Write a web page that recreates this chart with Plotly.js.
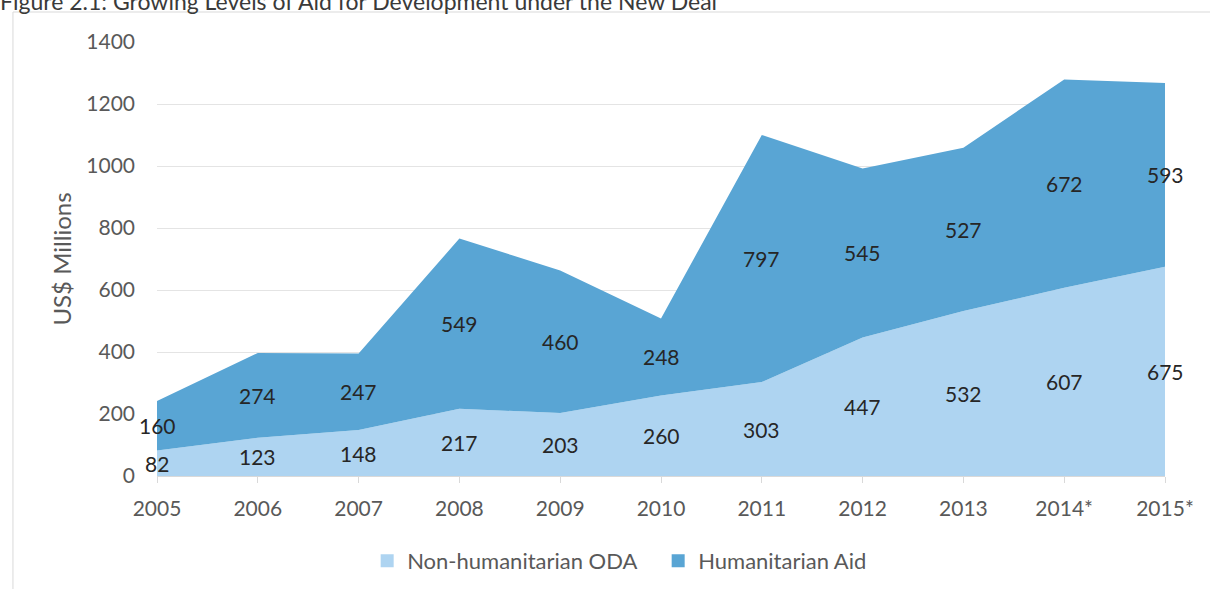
<!DOCTYPE html>
<html>
<head>
<meta charset="utf-8">
<script src="https://cdn.plot.ly/plotly-3.0.1.min.js"></script>
<style>
html,body{margin:0;padding:0;background:#fff;}
#chart{width:1210px;height:589px;}
</style>
</head>
<body>
<div id="chart"></div>
<script>
const years = ["2005","2006","2007","2008","2009","2010","2011","2012","2013","2014*","2015*"];
const nonHumanitarian = [82,123,148,217,203,260,303,447,532,607,675];
const humanitarian = [160,274,247,549,460,248,797,545,527,672,593];
const seriesNames = ["Non-humanitarian ODA","Humanitarian Aid"];
const colors = ["#AED4F1","#59A5D4"];

const FONT = "Lato, 'Open Sans', sans-serif";

const nonMid = nonHumanitarian.map(v => v / 2);
const humMid = humanitarian.map((v, i) => nonHumanitarian[i] + v / 2);

const traces = [
  {x: years, y: nonHumanitarian, type: "scatter", mode: "none", stackgroup: "one",
   fillcolor: colors[0], name: seriesNames[0], showlegend: false, hoverinfo: "skip"},
  {x: years, y: humanitarian, type: "scatter", mode: "none", stackgroup: "one",
   fillcolor: colors[1], name: seriesNames[1], showlegend: false, hoverinfo: "skip"},
  {x: [null], y: [null], type: "scatter", mode: "markers", name: seriesNames[0],
   marker: {symbol: "square", size: 13, color: colors[0]}},
  {x: [null], y: [null], type: "scatter", mode: "markers", name: seriesNames[1],
   marker: {symbol: "square", size: 13, color: colors[1]}}
];

const labelFont = {family: FONT, size: 21, color: "#262626"};
const annotations = [];
years.forEach((yr, i) => {
  // category axis: position by category index
  annotations.push({x: i, y: nonMid[i], xref: "x", yref: "y", text: String(nonHumanitarian[i]),
    showarrow: false, font: labelFont});
  annotations.push({x: i, y: humMid[i], xref: "x", yref: "y", text: String(humanitarian[i]),
    showarrow: false, font: labelFont});
});

const layout = {
  width: 1210, height: 589,
  margin: {l: 157, r: 45, t: 42, b: 113},
  paper_bgcolor: "#ffffff", plot_bgcolor: "#ffffff",
  font: {family: FONT, size: 21, color: "#595959"},
  title: {
    text: "Figure 2.1: Growing Levels of Aid for Development under the New Deal",
    x: 0, xref: "container", xanchor: "left",
    y: 0.9968, yref: "container", yanchor: "middle",
    font: {family: FONT, size: 23, color: "#3a3a3a"}
  },
  xaxis: {
    type: "category", range: [0, 10], showgrid: false,
    showline: true, linecolor: "#d9d9d9", linewidth: 1,
    ticks: "outside", ticklen: 6, tickcolor: "#d9d9d9",
    ticklabelstandoff: 8,
    tickfont: {family: FONT, size: 21, color: "#595959"}, fixedrange: true
  },
  yaxis: {
    range: [0, 1400], dtick: 200, showgrid: true, gridcolor: "#e4e4e4", gridwidth: 1,
    zeroline: false, showline: false, ticks: "",
    ticklabelstandoff: 21,
    tickfont: {family: FONT, size: 21, color: "#595959"},
    title: {text: "US$ Millions", font: {family: FONT, size: 24, color: "#595959"}, standoff: 7},
    fixedrange: true
  },
  legend: {
    orientation: "h", traceorder: "normal",
    x: 0.2085, xanchor: "left", xref: "paper",
    y: 0.0475, yanchor: "middle", yref: "container",
    font: {family: FONT, size: 22, color: "#595959"},
    entrywidth: 246, entrywidthmode: "pixels", bgcolor: "rgba(0,0,0,0)"
  },
  annotations: annotations,
  shapes: [{
    type: "rect", xref: "paper", yref: "paper", layer: "below",
    x0: -0.1429, x1: 1.2, y0: -0.5, y1: 1.0691,
    line: {color: "#d9d9d9", width: 1}, fillcolor: "rgba(0,0,0,0)"
  }],
  showlegend: true
};

Plotly.newPlot("chart", traces, layout, {displayModeBar: false, staticPlot: true});
</script>
</body>
</html>
